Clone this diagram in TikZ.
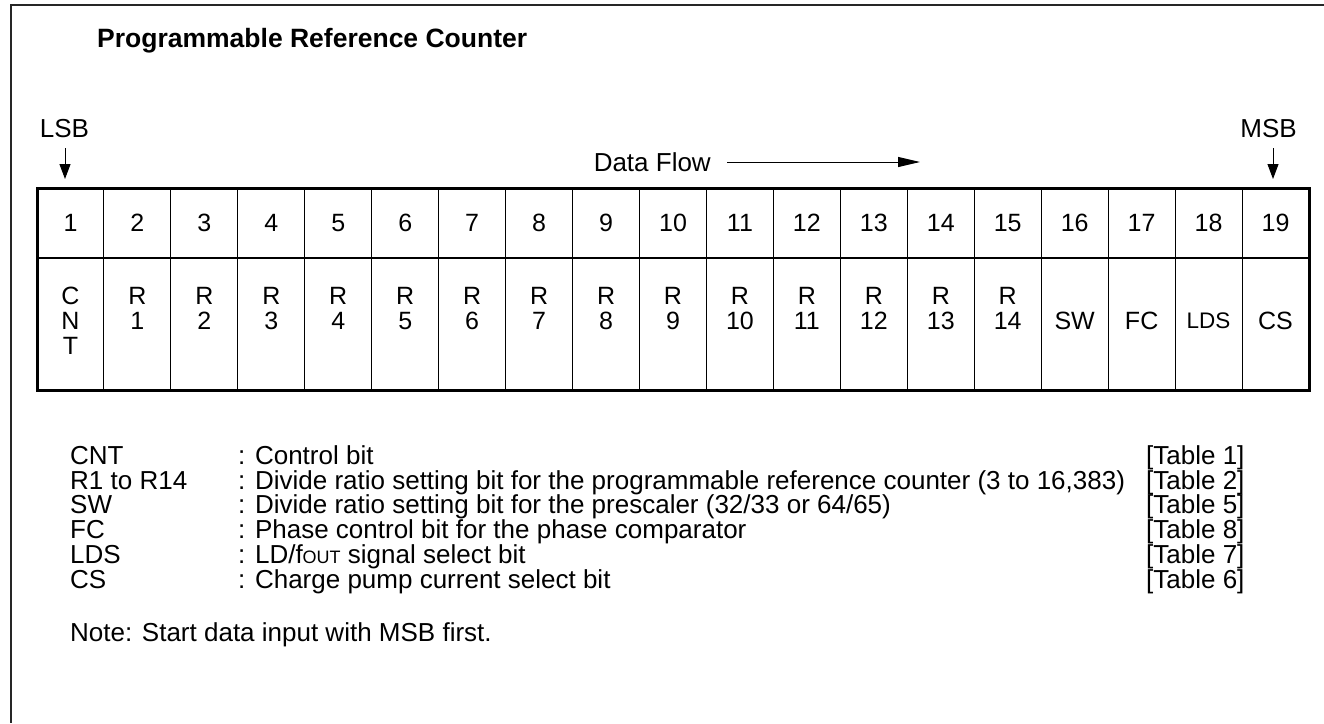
\documentclass[tikz,border=0pt]{standalone}
\usepackage{fontspec}
\setmainfont{Liberation Sans}
\usetikzlibrary{arrows.meta}
\newcommand{\fout}{f{\fontsize{18}{18}\selectfont OUT}}
\begin{document}
\begin{tikzpicture}[x=1pt,y=-1pt,
  txt/.style={inner sep=0pt,font=\fontsize{25}{25}\selectfont},
  leg/.style={inner sep=0pt,font=\fontsize{26}{25}\selectfont},
  small/.style={inner sep=0pt,font=\fontsize{22.5}{25}\selectfont},
  ttl/.style={inner sep=0pt,font=\fontsize{26.5}{28}\selectfont\bfseries},
  frameline/.style={line width=1.5pt,draw=black!85},
  outer/.style={line width=3pt},
  midline/.style={line width=2pt},
  grid/.style={line width=1pt},
  downarrow/.style={line width=1pt,-{Triangle[length=15pt,width=11pt]}},
  flowarrow/.style={line width=1pt,-{Triangle[length=22pt,width=10pt]}}]
\useasboundingbox (0,0) rectangle (1324,723);
\fill[white] (0,0) rectangle (1324,723);
% frame
\draw[frameline] (1324,5) -- (11,5) -- (11,723);
% title
\node[ttl,anchor=base west] (title) at (97,47) {Programmable Reference Counter};
% LSB / MSB
\node[leg,anchor=base] (lsb) at (64.5,137) {LSB};
\node[leg,anchor=base] (msb) at (1268.5,137) {MSB};
\coordinate (lsbtop) at (65,148);
\coordinate (lsbtip) at (65,179);
\coordinate (msbtop) at (1273,148);
\coordinate (msbtip) at (1273,179);
\draw[downarrow] (lsbtop) -- (lsbtip);
\draw[downarrow] (msbtop) -- (msbtip);
% data flow
\node[leg,anchor=base east] (flow) at (711,171) {Data Flow};
\coordinate (flowstart) at (727,162);
\coordinate (flowend) at (920,162);
\draw[flowarrow] (flowstart) -- (flowend);
% table
\draw[outer] (37,188) rectangle (1309,390);
\draw[midline] (37,258) -- (1309,258);
\foreach \i in {1,...,18}
  \draw[grid] ({37+\i*66.947},188) -- ({37+\i*66.947},390);
\foreach \i in {1,...,19}
  \node[txt,anchor=base] (h\i) at ({37+(\i-0.5)*66.947},231.5) {\i};
% body
\node[txt,anchor=base] (b1a) at ({37+0.5*66.947},304) {C};
\node[txt,anchor=base] (b1b) at ({37+0.5*66.947},329) {N};
\node[txt,anchor=base] (b1c) at ({37+0.5*66.947},354) {T};
\foreach \i [evaluate=\i as \j using int(\i-1)] in {2,...,15}{
  \node[txt,anchor=base] (b\i a) at ({37+(\i-0.5)*66.947},304) {R};
  \node[txt,anchor=base] (b\i b) at ({37+(\i-0.5)*66.947},329) {\j};
}
\node[txt,anchor=base] (b16) at ({37+15.5*66.947},329) {SW};
\node[txt,anchor=base] (b17) at ({37+16.5*66.947},329) {FC};
\node[small,anchor=base] (b18) at ({37+17.5*66.947},328.5) {LDS};
\node[txt,anchor=base] (b19) at ({37+18.5*66.947},329) {CS};
% legend
\foreach \n/\y/\lab/\tab in {1/464.3/CNT/1, 2/489/R1 to R14/2, 3/513.8/SW/5, 4/538.5/FC/8, 5/563.3/LDS/7, 6/588/CS/6}{
  \node[leg,anchor=base west] (l\n) at (70,\y) {\lab};
  \node[leg,anchor=base west] (t\n) at (1146,\y) {[Table \tab]};
}
\node[leg,anchor=base west] (d1) at (238,464.3) {: Control bit};
\node[leg,anchor=base west] (d2) at (238,489) {: Divide ratio setting bit for the programmable reference counter (3 to 16,383)};
\node[leg,anchor=base west] (d3) at (238,513.8) {: Divide ratio setting bit for the prescaler (32/33 or 64/65)};
\node[leg,anchor=base west] (d4) at (238,538.5) {: Phase control bit for the phase comparator};
\node[leg,anchor=base west] (d5) at (238,563.3) {: LD/\fout{} signal select bit};
\node[leg,anchor=base west] (d6) at (238,588) {: Charge pump current select bit};
\node[leg,anchor=base west] (note) at (70,641) {Note: Start data input with MSB first.};
\end{tikzpicture}
\end{document}
